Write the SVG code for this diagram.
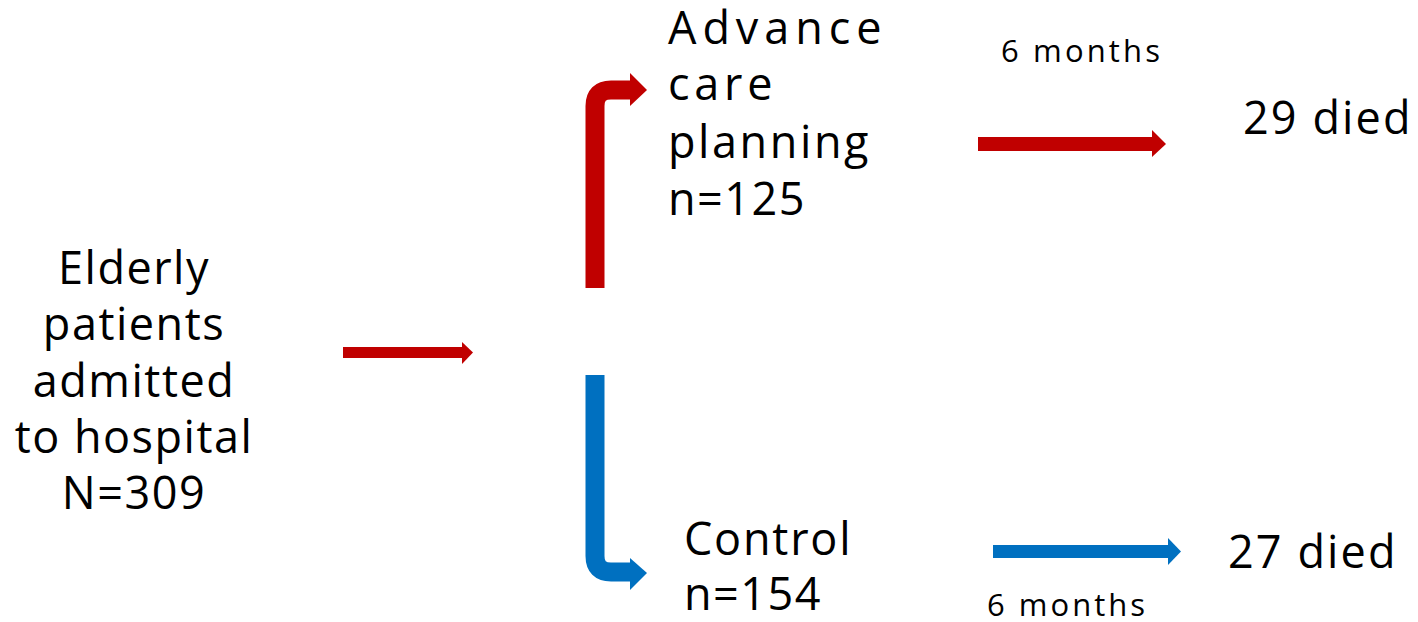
<svg xmlns="http://www.w3.org/2000/svg" width="1418" height="622" viewBox="0 0 1418 622">
<style>
.t{font-family:"Open Sans","DejaVu Sans",sans-serif;font-size:45px;letter-spacing:1.5px;fill:#000}
.s{font-family:"Open Sans","DejaVu Sans",sans-serif;font-size:31px;letter-spacing:1px;fill:#000}
.red{fill:#c00000}
.blue{fill:#0070c0}
</style>
<rect width="1418" height="622" fill="#fff"/>
<g id="connectors">
<g id="arrow-main">
<rect class="red" x="343" y="347" width="120" height="11"/>
<polygon class="red" points="462,342 473,352.5 462,364"/>
</g>
<g id="arrow-acp">
<path d="M595,288 V106 Q595,90 611,90 H631" fill="none" stroke="#c00000" stroke-width="19" stroke-linejoin="round"/>
<polygon class="red" points="630,73 647,90 630,106"/>
</g>
<g id="arrow-control">
<path d="M595,375 V556 Q595,572 611,572 H631" fill="none" stroke="#0070c0" stroke-width="19"/>
<polygon class="blue" points="630,558 647,573 630,590"/>
</g>
<g id="arrow-acp-out">
<rect class="red" x="978" y="137" width="175" height="14"/>
<polygon class="red" points="1152,130 1166,144 1152,157"/>
</g>
<g id="arrow-control-out">
<rect class="blue" x="993" y="545" width="176" height="13"/>
<polygon class="blue" points="1168,538 1181,551.5 1168,565"/>
</g>
</g>
<g id="node-elderly">
<text class="t" text-anchor="middle" x="134"><tspan x="134" y="284">Elderly</tspan><tspan x="134" y="340">patients</tspan><tspan x="134" y="397">admitted</tspan><tspan x="134" y="453">to hospital</tspan><tspan x="134" y="509">N=309</tspan></text>
</g>
<g id="node-acp">
<text class="t" x="668" y="44" textLength="215" lengthAdjust="spacing">Advance</text>
<text class="t" x="668" y="100" textLength="106" lengthAdjust="spacing">care</text>
<text class="t" x="668" y="158" textLength="202" lengthAdjust="spacing">planning</text>
<text class="t" x="668" y="215">n=125</text>
</g>
<g id="node-control">
<text class="t" x="684" y="555" textLength="168" lengthAdjust="spacing">Control</text>
<text class="t" x="684" y="610">n=154</text>
</g>
<g id="node-acp-died">
<text class="t" x="1243" y="134" textLength="169" lengthAdjust="spacing">29 died</text>
</g>
<g id="node-control-died">
<text class="t" x="1228" y="568" textLength="169" lengthAdjust="spacing">27 died</text>
</g>
<g id="labels">
<text class="s" x="1001" y="62" textLength="160" lengthAdjust="spacing">6 months</text>
<text class="s" x="987" y="616" textLength="159" lengthAdjust="spacing">6 months</text>
</g>
</svg>
